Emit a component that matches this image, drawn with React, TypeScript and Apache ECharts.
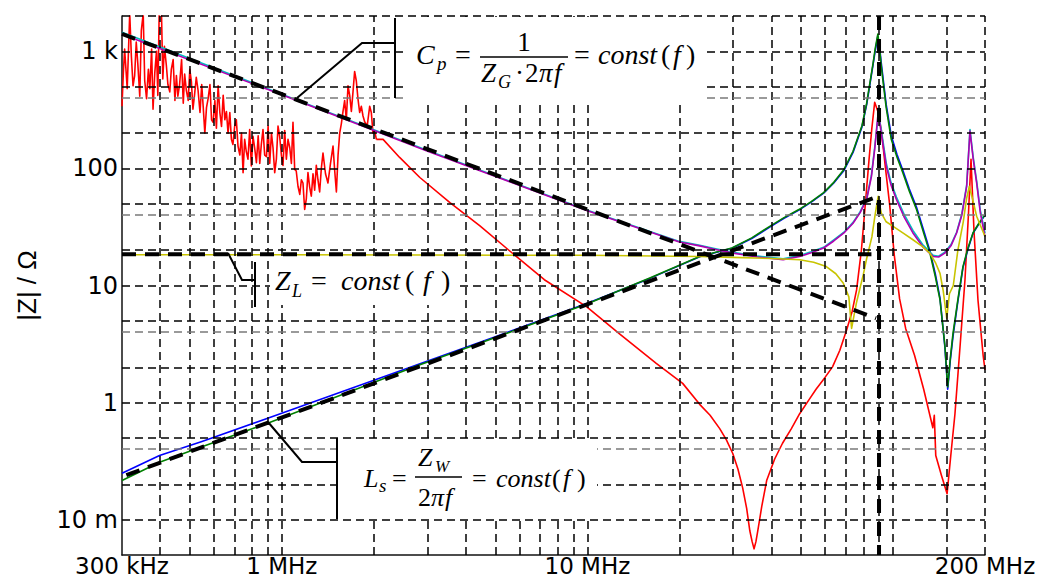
import React, { useEffect, useRef } from "react";
import * as echarts from "echarts";

// ---- axis ticks ----
const xTickValues = [0.3, 1, 10, 200];
const xTickLabels = ["300 kHz", "1 MHz", "10 MHz", "200 MHz"];
const yTickValues = [0.1, 1, 10, 100, 1000];
const yTickLabels = ["10 m", "1", "10", "100", "1 k"];

// ---- grid lines (MHz / ohm) ----
const xGrid = [0.4, 0.5, 0.6, 0.7, 0.8, 0.9, 1, 2, 3, 4, 5, 6, 7, 8, 9, 10, 20, 30, 40, 50, 60, 70, 80, 90, 100, 150, 200];
const yGrid = [0.1, 0.2, 0.5, 1, 2, 5, 10, 20, 50, 100, 200, 500, 1000, 2000];
const yGridGrey = [0.4, 4, 40, 400];

// ---- measured curves: f in MHz, |Z| in ohm ----
// red, noisy low-frequency part
const redNoiseF = [
  0.300, 0.303, 0.306, 0.312, 0.318, 0.322, 0.326, 0.330, 0.334, 0.338, 0.343, 0.347, 0.352, 0.356, 0.361, 0.366,
  0.370, 0.375, 0.379, 0.384, 0.389, 0.393, 0.397, 0.404, 0.408, 0.413, 0.419, 0.424, 0.430, 0.435, 0.441, 0.447,
  0.452, 0.457, 0.463, 0.470, 0.476, 0.481, 0.487, 0.494, 0.500, 0.506, 0.512, 0.518, 0.525, 0.532, 0.540, 0.547,
  0.553, 0.560, 0.567, 0.574, 0.582, 0.589, 0.596, 0.604, 0.611, 0.619, 0.627, 0.635, 0.643, 0.651, 0.659, 0.667,
  0.676, 0.684, 0.692, 0.701, 0.710, 0.719, 0.729, 0.738, 0.747, 0.756, 0.765, 0.775, 0.785, 0.795, 0.805, 0.815,
  0.826, 0.837, 0.847, 0.857, 0.868, 0.879, 0.891, 0.902, 0.913, 0.925, 0.936, 0.948, 0.960, 0.972, 0.984, 0.997,
  1.009, 1.022, 1.035, 1.048, 1.062, 1.075, 1.088, 1.102, 1.115, 1.130, 1.145, 1.159, 1.173, 1.188, 1.203, 1.218,
  1.233, 1.249, 1.265, 1.281, 1.297, 1.313, 1.330, 1.347, 1.364, 1.390, 1.416, 1.443, 1.471, 1.490, 1.509, 1.528,
  1.547, 1.566, 1.586, 1.606, 1.626, 1.647, 1.668, 1.689, 1.710, 1.731, 1.753, 1.775, 1.798, 1.821, 1.844, 1.867,
  1.903, 1.939, 1.963, 1.988, 2.013, 2.039,
];
const redNoiseZ = [
  339, 650, 1045, 480, 2100, 900, 507, 620, 1200, 780, 413, 1500, 2100, 560, 394, 700,
  480, 1045, 320, 650, 1000, 420, 2100, 2100, 580, 1100, 760, 520, 450, 700, 850, 380,
  620, 413, 520, 850, 360, 640, 467, 380, 700, 550, 320, 420, 600, 467, 300, 520,
  339, 200, 330, 394, 520, 260, 247, 380, 220, 506, 300, 228, 420, 260, 306, 200,
  300, 177, 160, 228, 260, 155, 130, 200, 92, 177, 140, 120, 215, 105, 188, 150,
  112, 190, 110, 160, 215, 130, 126, 230, 110, 200, 150, 92, 120, 230, 188, 130,
  106, 210, 120, 177, 150, 110, 247, 98, 95, 70, 60, 80, 75, 44.6, 55, 92,
  70, 58, 90, 65, 106, 80, 63, 100, 135, 90, 75, 110, 155, 95, 63, 130,
  200, 240, 307, 380, 260, 506, 420, 306, 450, 672, 560, 394, 300, 339, 280, 250,
  230, 339, 300, 200, 210, 177,
];
// red, smooth part
const redF = [
  2.039, 2.145, 2.43, 2.83, 3.55, 4.44, 5.56, 7.23, 9.93, 12.77, 16.8, 20.5, 23.3, 25.2, 27.1, 28.5, 29.9, 31.1, 32.2,
  33.2, 34.0, 34.6, 35.1, 35.6, 36.1, 37.2, 38.6, 41, 43.5, 46.5, 49.5, 53, 56, 60, 63.4, 67, 70.5, 73.5, 76.0, 78.8,
  81.4, 83.5, 85.2, 87.1, 89.2, 91.5, 94.5, 97.5, 101, 105.1, 110, 117.6, 126, 135, 136.5, 138, 144, 150.3, 154.5,
  159.5, 166, 172, 176.5, 180, 184.1, 189.7, 197.3, 200,
];
const redZ = [
  177, 177, 124, 83.6, 51, 32.4, 19.8, 11.2, 6.6, 3.85, 2.16, 1.46, 0.967, 0.78, 0.6, 0.48, 0.368, 0.27, 0.188,
  0.125, 0.0805, 0.065, 0.0564, 0.065, 0.0805, 0.13, 0.216, 0.33, 0.45, 0.6, 0.804, 1.05, 1.3, 1.65, 2.02, 2.8, 4.17,
  6.0, 9.17, 20, 54, 120, 215, 367, 307, 215, 100, 49, 18, 7.68, 4.3, 2.54, 1.3, 0.61, 0.78, 0.354, 0.24, 0.167, 0.35,
  0.804, 3.2, 11.2, 40, 119.5, 29, 7.5, 2.5, 1.9,
];

const greenF = [0.3, 0.398, 0.548, 0.89, 2.76, 5, 10, 16, 23.3, 29.7, 34.5, 39.5, 44, 49.2, 54, 59.3, 64, 69.1, 74, 79.1, 82, 84.1, 86, 87.4, 89.2, 90.4, 91.5, 95, 98.7, 103, 107.6, 113, 119.4, 126, 132, 137.5, 142.5, 147.8, 151, 154, 157.2, 163, 169.4, 176, 182.8, 191, 200];
const greenZ = [0.216, 0.31, 0.42, 0.66, 2.05, 3.6, 7.0, 11.6, 17.7, 20.9, 25.5, 32, 38, 44.5, 52, 62.1, 76, 97.9, 140, 230, 360, 545, 780, 1045, 1403, 1050, 751, 330, 177, 125, 92.2, 64, 44.5, 28, 19, 12, 7.53, 3.1, 1.36, 2.4, 3.92, 7.53, 14.5, 21, 28.2, 34, 40.3];

const blueF = [0.3, 0.398, 0.548, 0.89, 2.76, 5, 10, 16, 23.3, 29.7, 34.5, 39.5, 44, 49.2, 54, 59.3, 64, 69.1, 74, 79.1, 82, 84.1, 86, 87.4, 89.2, 90.4, 91.5, 95, 98.7, 103, 107.6, 113, 119.4, 126, 132, 137.5, 142.5, 147.8, 151, 154, 157.2, 163, 169.4, 176, 182.8, 191, 200];
const blueZ = [0.249, 0.353, 0.466, 0.729, 2.1, 3.65, 7.05, 11.5, 17.6, 20.8, 25.2, 31.5, 37.5, 44, 51.5, 61.5, 75, 96, 137, 225, 350, 530, 760, 1000, 1350, 1080, 800, 350, 190, 132, 97, 67, 46.5, 29.5, 19.8, 12.6, 7.8, 3.0, 1.3, 2.3, 3.7, 7.3, 14.2, 20.5, 28, 33.5, 40];

const purpleF = [0.3, 1, 3, 10, 20, 23.3, 26.5, 30, 36, 43.7, 49.5, 54, 59.3, 64, 69.1, 74, 78, 82, 85, 87.1, 89.4, 91.5, 95.1, 98.5, 102.6, 109, 116.2, 125, 135.3, 141, 147.8, 155, 161.5, 168, 174.2, 178.6, 183, 187.8, 193, 200];
const purpleZ = [1400, 425, 140, 43.5, 23.5, 21.8, 20.2, 18.9, 17.5, 16.6, 17.7, 19, 20.9, 24, 28.1, 34, 41.7, 54.2, 85, 145, 299, 202, 104, 72, 54.2, 38, 28.1, 21.5, 17.7, 17.5, 18.9, 22, 28.1, 40, 70.3, 208, 120, 75.3, 42, 26.2];

const cyanF = [0.3, 1, 3, 10, 20, 23.3, 26.5, 30, 36, 43.7, 49.5, 54, 59.3, 64, 69.1, 74, 78, 82, 85, 87.1, 89.6, 91.5, 95.1, 98.5, 102.6, 109, 116.2, 125, 135.3, 141, 147.8, 155, 161.5, 168, 174.2, 178.6, 183, 187.8, 193, 200];
const cyanZ = [1450, 430, 142, 44, 23.8, 22, 20.5, 19.2, 17.8, 16.9, 18, 19.4, 21.2, 24.5, 28.5, 34.6, 42.5, 55.5, 88, 150, 290, 215, 110, 76, 57, 40, 29.5, 22.4, 18.1, 17.8, 19.3, 22.5, 28.5, 41, 72, 215, 125, 78, 44, 28];

const yellowF = [0.3, 1, 3, 10, 23.3, 29.9, 40, 49.5, 55, 60.5, 65, 68.7, 71.7, 73.2, 74.5, 76, 80, 82, 85.3, 87.1, 89.4, 91.5, 95, 100.1, 108, 116.2, 125, 132, 138, 142.5, 146, 149.9, 153, 157.5, 163, 169.8, 174, 177.7, 182, 187.8, 200];
const yellowZ = [18.3, 18.3, 18.2, 18.1, 17.7, 17.4, 17.0, 16.6, 15.8, 14.5, 12.6, 10.5, 8.0, 4.3, 5.5, 7.2, 12.5, 17, 26, 38, 57.8, 41.7, 35, 32, 28, 24.6, 21.5, 18.9, 15.5, 12.7, 9, 5.25, 8.5, 10, 20, 35, 55, 70.3, 55, 39, 26.2];

// ---- asymptotes ----
const cpLineF = [0.3, 88];
const cpLineZ = [1407, 5.25];
const lsLineF = [0.31, 90];
const lsLineZ = [0.24, 58];
const zlLineF = [0.3, 85];
const zlLineZ = [18.5, 18.5];
const resLineF = [90, 90];
const resLineZ = [2000, 0.05];

const zip = (f: number[], z: number[]) => f.map((v, i) => [v, z[i]]);

const tickFormatter = (vals: number[], labels: string[]) => (v: number) => {
  for (let i = 0; i < vals.length; i++) {
    if (Math.abs(Math.log10(v) - Math.log10(vals[i])) < 1e-4) return labels[i];
  }
  return "";
};

const SERIF = '"Liberation Serif", "Times New Roman", serif';

const T = (x: number, baseline: number, text: string, size: number, italic = false, align = "left") => ({
  type: "text",
  x,
  y: baseline - 0.34 * size,
  z: 102,
  silent: true,
  style: {
    text,
    font: `${italic ? "italic " : ""}${size}px ${SERIF}`,
    fill: "#000",
    textFill: "#000",
    align,
    textAlign: align,
    verticalAlign: "middle",
    textVerticalAlign: "middle",
  },
});

const R = (x: number, y: number, w: number, h: number) => ({
  type: "rect",
  z: 100,
  silent: true,
  shape: { x, y, width: w, height: h },
  style: { fill: "#fff" },
});

const L = (x1: number, y1: number, x2: number, y2: number, w = 2) => ({
  type: "line",
  z: 101,
  silent: true,
  shape: { x1, y1, x2, y2 },
  style: { stroke: "#000", lineWidth: w },
});

const P = (pts: number[][]) => ({
  type: "polyline",
  z: 101,
  silent: true,
  shape: { points: pts },
  style: { stroke: "#000", lineWidth: 2, fill: null },
});

export default function App() {
  const ref = useRef<HTMLDivElement>(null);

  useEffect(() => {
    if (!ref.current) return;
    const chart = echarts.init(ref.current, undefined, { renderer: "svg" });

    const gridStyle = { color: "#000", width: 1.5, type: [8, 5] };
    const greyStyle = { color: "#7a7a7a", width: 1.5, type: [8, 5] };
    const thick = { color: "#000", width: 4, type: [14, 9] };

    const curve = (name: string, data: number[][], color: string, z: number, width = 1.6) => ({
      name,
      type: "line",
      data,
      z,
      smooth: false,
      showSymbol: false,
      symbol: "none",
      lineStyle: { color, width, join: "round" },
      silent: true,
      animation: false,
    });

    const dashed = (name: string, data: number[][]) => ({
      name,
      type: "line",
      data,
      z: 5,
      showSymbol: false,
      symbol: "none",
      lineStyle: thick,
      silent: true,
      animation: false,
    });

    const axisLabelBase = {
      interval: 0,
      showMinLabel: true,
      showMaxLabel: true,
      color: "#000",
      fontFamily: "DejaVu Sans",
    };

    const option: any = {
      animation: false,
      backgroundColor: "#fff",
      grid: { left: 122, top: 16, width: 863, height: 539, containLabel: false },
      xAxis: {
        type: "log",
        logBase: 10,
        min: 0.3,
        max: 200,
        axisLine: { show: true, onZero: false, lineStyle: { color: "#111", width: 1.5 } },
        axisTick: { show: false },
        splitLine: { show: false },
        axisLabel: {
          ...axisLabelBase,
          formatter: tickFormatter(xTickValues, xTickLabels),
          margin: 0,
          fontSize: 23,
          lineHeight: 21,
        },
      },
      yAxis: {
        type: "log",
        logBase: 10,
        min: 0.05,
        max: 2000,
        name: "|Z| / Ω",
        nameLocation: "middle",
        nameGap: 82,
        nameTextStyle: { fontFamily: "Liberation Sans", fontSize: 26, color: "#000" },
        axisLine: { show: true, onZero: false, lineStyle: { color: "#111", width: 1.5 } },
        axisTick: { show: false },
        splitLine: { show: false },
        axisLabel: {
          ...axisLabelBase,
          formatter: tickFormatter(yTickValues, yTickLabels),
          margin: 4,
          fontSize: 24,
        },
      },
      series: [
        {
          name: "grid",
          type: "line",
          data: [],
          z: 1,
          silent: true,
          animation: false,
          markLine: {
            silent: true,
            animation: false,
            symbol: ["none", "none"],
            label: { show: false },
            emphasis: { disabled: true },
            data: [
              ...xGrid.map((v) => ({ xAxis: v, lineStyle: gridStyle })),
              ...yGrid.map((v) => ({ yAxis: v, lineStyle: gridStyle })),
              ...yGridGrey.map((v) => ({ yAxis: v, lineStyle: greyStyle })),
            ],
          },
        },
        curve("red noise", zip(redNoiseF, redNoiseZ), "#ff0000", 2),
        curve("red", zip(redF, redZ), "#ff0000", 2),
        curve("blue", zip(blueF, blueZ), "#0000ff", 3),
        curve("green", zip(greenF, greenZ), "#008000", 3),
        curve("cyan", zip(cyanF, cyanZ), "#00c0c0", 3),
        curve("purple", zip(purpleF, purpleZ), "#b000b0", 3),
        curve("yellow", zip(yellowF, yellowZ), "#c8c400", 3),
        dashed("Cp", zip(cpLineF, cpLineZ)),
        dashed("Ls", zip(lsLineF, lsLineZ)),
        dashed("ZL", zip(zlLineF, zlLineZ)),
        dashed("res", zip(resLineF, resLineZ)),
      ],
      graphic: [
        // C_p annotation
        R(408, 17, 297, 83),
        P([[297, 98], [362, 43], [395, 43]]),
        L(395, 18, 395, 98),
        T(416, 64, "C", 28, true),
        T(437, 70, "p", 19, true),
        T(455, 64, "=", 28),
        T(524, 51, "1", 27, false, "center"),
        L(480, 57, 568, 57, 1.4),
        T(481, 82, "Z", 27, true),
        T(498, 88, "G", 18, true),
        T(515, 82, "·", 27),
        T(525, 82, "2", 27),
        T(539, 82, "π", 27, true),
        T(554, 82, "f", 27, true),
        T(574, 64, "=", 28),
        T(598, 64, "const", 28, true),
        T(661, 64, "(", 28),
        T(673, 64, "f", 28, true),
        T(686, 64, ")", 28),
        // Z_L annotation
        R(270, 258, 188, 47),
        P([[228, 253], [242, 280], [255, 280]]),
        L(255, 262, 255, 307),
        T(275, 290, "Z", 28, true),
        T(292, 297, "L", 18, true),
        T(311, 290, "=", 28),
        T(341, 290, "const", 28, true),
        T(405, 290, "(", 28),
        T(423, 290, "f", 28, true),
        T(441, 290, ")", 28),
        // L_s annotation
        R(340, 441, 257, 76),
        P([[268, 422], [302, 462], [337, 462]]),
        L(337, 438, 337, 519),
        T(364, 487, "L", 26, true),
        T(379, 492, "s", 19, true),
        T(392, 487, "=", 26),
        T(418, 466, "Z", 26, true),
        T(435, 472, "W", 17, true),
        L(415, 477, 462, 477, 1.3),
        T(418, 506, "2", 26),
        T(431, 506, "π", 26, true),
        T(445, 506, "f", 26, true),
        T(472, 487, "=", 26),
        T(496, 487, "const", 26, true),
        T(552, 487, "(", 26),
        T(563, 487, "f", 26, true),
        T(577, 487, ")", 26),
      ],
    };

    chart.setOption(option);
    return () => chart.dispose();
  }, []);

  return (
    <div
      ref={ref}
      style={{ position: "fixed", left: 0, top: 0, width: 1044, height: 579, background: "#fff" }}
    />
  );
}
